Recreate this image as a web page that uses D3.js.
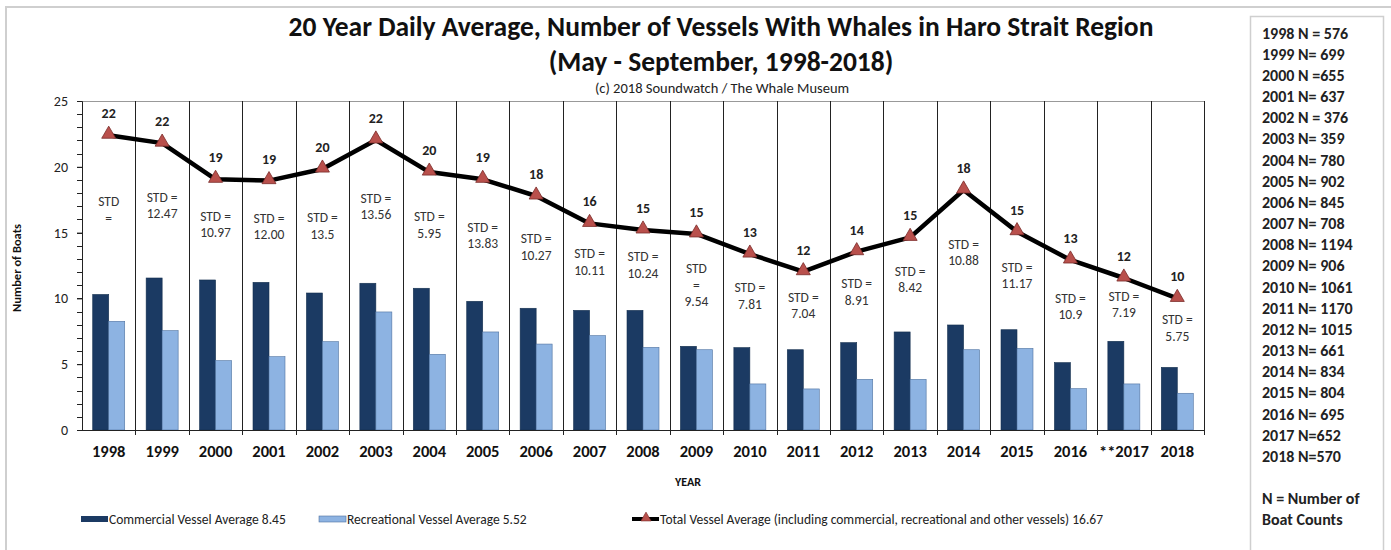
<!DOCTYPE html>
<html>
<head>
<meta charset="utf-8">
<script src="https://cdn.jsdelivr.net/npm/d3@7"></script>
<style>
  body { margin: 0; background: #fff; }
  svg { font-family: Carlito, Lato, sans-serif; }
</style>
</head>
<body>
<svg id="chart" width="1391" height="550"></svg>
<script>
const years = ["1998","1999","2000","2001","2002","2003","2004","2005","2006","2007","2008","2009","2010","2011","2012","2013","2014","2015","2016","2017","2018"];
const yearLabels = ["1998","1999","2000","2001","2002","2003","2004","2005","2006","2007","2008","2009","2010","2011","2012","2013","2014","2015","2016","**2017","2018"];
const commercial = [10.3, 11.55, 11.4, 11.22, 10.41, 11.15, 10.77, 9.78, 9.25, 9.09, 9.09, 6.36, 6.26, 6.1, 6.64, 7.45, 7.98, 7.62, 5.12, 6.74, 4.76];
const recreational = [8.26, 7.55, 5.27, 5.57, 6.71, 8.97, 5.75, 7.45, 6.53, 7.17, 6.28, 6.1, 3.5, 3.12, 3.85, 3.85, 6.1, 6.2, 3.14, 3.5, 2.79];
const total = [22.4, 21.8, 19.05, 18.95, 19.83, 22.04, 19.6, 19.05, 17.78, 15.7, 15.2, 14.9, 13.37, 12.03, 13.55, 14.64, 18.24, 15.07, 12.92, 11.55, 10.0];
const stdLabels = [["STD", "="], ["STD =", "12.47"], ["STD =", "10.97"], ["STD =", "12.00"], ["STD =", "13.5"], ["STD =", "13.56"], ["STD =", "5.95"], ["STD =", "13.83"], ["STD =", "10.27"], ["STD =", "10.11"], ["STD =", "10.24"], ["STD", "=", "9.54"], ["STD =", "7.81"], ["STD =", "7.04"], ["STD =", "8.91"], ["STD =", "8.42"], ["STD =", "10.88"], ["STD =", "11.17"], ["STD =", "10.9"], ["STD =", "7.19"], ["STD =", "5.75"]];
const nCounts = ["1998 N = 576","1999 N= 699","2000 N =655","2001 N= 637","2002 N = 376","2003 N= 359","2004 N= 780","2005 N= 902","2006 N= 845","2007 N= 708","2008 N= 1194","2009 N= 906","2010 N= 1061","2011 N= 1170","2012 N= 1015","2013 N= 661","2014 N= 834","2015 N= 804","2016 N= 695","2017 N=652","2018 N=570"];
const yTicks = [0, 5, 10, 15, 20, 25];
const legendItems = ["Commercial Vessel Average 8.45", "Recreational Vessel Average 5.52", "Total Vessel Average (including commercial, recreational and other vessels) 16.67"];

const svg = d3.select("#chart");
const plotLeft = 82, plotRight = 1204, plotTop = 101, plotBottom = 430;

const xScale = d3.scaleBand().domain(years).range([plotLeft, plotRight]).padding(0);
const subScale = d3.scaleBand().domain(["com", "rec"]).range([0, xScale.bandwidth()]).paddingInner(0).paddingOuter(0.67);
const yScale = d3.scaleLinear().domain([0, 25]).range([plotBottom, plotTop]);

const comColor = "#1b3a63", recColor = "#8db3e2", triColor = "#b9504c";

// outer frame
svg.append("path").attr("d", "M6,550 L6,7 L1391,7").attr("fill", "none").attr("stroke", "#cfcfcf").attr("stroke-width", 2);
svg.append("rect").attr("x", 1250.5).attr("y", 16.5).attr("width", 133).attr("height", 560)
  .attr("fill", "none").attr("stroke", "#cfcfcf").attr("stroke-width", 1.5);

// titles
svg.append("text").attr("x", 721).attr("y", 36).attr("text-anchor", "middle")
  .style("font-size", "27.5px").style("font-weight", "bold").attr("fill", "#111")
  .text("20 Year Daily Average, Number of Vessels With Whales in Haro Strait Region");
svg.append("text").attr("x", 721).attr("y", 71).attr("text-anchor", "middle")
  .style("font-size", "27.5px").style("font-weight", "bold").attr("fill", "#111")
  .text("(May - September, 1998-2018)");
svg.append("text").attr("x", 722).attr("y", 93).attr("text-anchor", "middle")
  .style("font-size", "14.5px").attr("fill", "#222")
  .text("(c) 2018 Soundwatch / The Whale Museum");

// plot border
svg.append("path").attr("d", `M${plotLeft},${plotTop + 0.5} L${plotRight},${plotTop + 0.5}`).attr("stroke", "#999").attr("stroke-width", 1);

// bars
const groups = svg.append("g").selectAll("g").data(years).join("g")
  .attr("transform", d => `translate(${xScale(d)},0)`);
groups.append("rect")
  .attr("x", subScale("com")).attr("width", subScale.bandwidth())
  .attr("y", (d, i) => yScale(commercial[i])).attr("height", (d, i) => plotBottom - yScale(commercial[i]))
  .attr("fill", comColor).attr("stroke", "#15304f").attr("stroke-width", 0.6);
groups.append("rect")
  .attr("x", subScale("rec")).attr("width", subScale.bandwidth())
  .attr("y", (d, i) => yScale(recreational[i])).attr("height", (d, i) => plotBottom - yScale(recreational[i]))
  .attr("fill", recColor).attr("stroke", "#4f72a0").attr("stroke-width", 0.6);

// category dividers
const bounds = years.map(d => xScale(d) + xScale.bandwidth());
svg.append("g").selectAll("line").data(bounds).join("line")
  .attr("x1", d => Math.round(d) + 0.5).attr("x2", d => Math.round(d) + 0.5)
  .attr("y1", plotTop).attr("y2", plotBottom + 5)
  .attr("stroke", "#222").attr("stroke-width", 1);

// y axis
const yAxis = d3.axisLeft(yScale).tickValues(yTicks).tickSize(5).tickPadding(9);
const yg = svg.append("g").attr("transform", `translate(${plotLeft},0)`).call(yAxis).attr("font-family", null);
yg.select(".domain").attr("stroke", "#222");
yg.selectAll(".tick line").attr("stroke", "#222");
yg.selectAll("text").style("font-size", "14px").attr("fill", "#222");
svg.append("g").selectAll("line").data(d3.range(0, 26)).join("line")
  .attr("x1", plotLeft - 5).attr("x2", plotLeft)
  .attr("y1", d => Math.round(yScale(d)) + 0.5).attr("y2", d => Math.round(yScale(d)) + 0.5)
  .attr("stroke", "#222");

// x axis
const xAxis = d3.axisBottom(xScale).tickSize(0).tickPadding(15).tickFormat((d, i) => yearLabels[i]);
const xg = svg.append("g").attr("transform", `translate(0,${plotBottom})`).call(xAxis).attr("font-family", null);
xg.select(".domain").attr("stroke", "#222");
xg.selectAll("text").style("font-size", "16.5px").style("font-weight", "bold").attr("fill", "#111");
svg.append("line").attr("x1", plotLeft).attr("x2", plotRight).attr("y1", plotBottom + 0.5).attr("y2", plotBottom + 0.5).attr("stroke", "#222");

// axis titles
svg.append("text").attr("transform", `translate(21,${268}) rotate(-90)`).attr("text-anchor", "middle")
  .style("font-size", "12.5px").style("font-weight", "bold").attr("fill", "#111").text("Number of Boats");
svg.append("text").attr("x", 688).attr("y", 486).attr("text-anchor", "middle")
  .style("font-size", "12px").style("font-weight", "bold").attr("fill", "#111").text("YEAR");

// total line
const cx = (d, i) => xScale(years[i]) + xScale.bandwidth() / 2;
const line = d3.line().x((d, i) => cx(d, i)).y(d => yScale(d));
svg.append("path").datum(total).attr("d", line).attr("fill", "none")
  .attr("stroke", "#000").attr("stroke-width", 4.5).attr("stroke-linejoin", "round");
const tri = d3.symbol().type(d3.symbolTriangle).size(85);
svg.append("g").selectAll("path").data(total).join("path")
  .attr("d", tri).attr("transform", (d, i) => `translate(${cx(d, i)},${yScale(d) - 1})`)
  .attr("fill", triColor).attr("stroke", "#7a2b28").attr("stroke-width", 0.8);

// value labels
svg.append("g").selectAll("text").data(total).join("text")
  .attr("x", (d, i) => cx(d, i)).attr("y", d => yScale(d) - 17)
  .attr("text-anchor", "middle").style("font-size", "14px").style("font-weight", "bold").attr("fill", "#222")
  .text(d => Math.round(d));

// STD labels, centred between the line point and the taller bar
const stdG = svg.append("g");
stdLabels.forEach((lines, i) => {
  const mid = (yScale(total[i]) + yScale(Math.max(commercial[i], recreational[i]))) / 2 - 5;
  const lh = 16.5;
  const y0 = mid - (lines.length - 1) * lh / 2 + 4.5;
  const t = stdG.append("text").attr("text-anchor", "middle").style("font-size", "13.5px").attr("fill", "#333");
  lines.forEach((s, j) => {
    t.append("tspan").attr("x", cx(0, i)).attr("y", y0 + j * lh).text(s);
  });
});

// legend
const lg = svg.append("g").style("font-size", "13.5px").attr("fill", "#222");
lg.append("rect").attr("x", 81).attr("y", 516).attr("width", 27).attr("height", 6).attr("fill", comColor);
lg.append("text").attr("x", 109).attr("y", 524).text(legendItems[0]);
lg.append("rect").attr("x", 319).attr("y", 516).attr("width", 27).attr("height", 6).attr("fill", recColor).attr("stroke", "#4f72a0").attr("stroke-width", 0.6);
lg.append("text").attr("x", 347).attr("y", 524).text(legendItems[1]);
lg.append("line").attr("x1", 632).attr("x2", 659).attr("y1", 519).attr("y2", 519).attr("stroke", "#000").attr("stroke-width", 4);
lg.append("path").attr("d", d3.symbol().type(d3.symbolTriangle).size(45)).attr("transform", "translate(646,518)")
  .attr("fill", triColor).attr("stroke", "#7a2b28").attr("stroke-width", 0.6);
lg.append("text").attr("x", 660).attr("y", 524).text(legendItems[2]);

// N counts panel
const ng = svg.append("g").style("font-size", "16px").style("font-weight", "bold").attr("fill", "#222");
ng.selectAll("text").data(nCounts).join("text")
  .attr("x", 1262).attr("y", (d, i) => 38.5 + i * 21.17).text(d => d);
ng.append("text").attr("x", 1262).attr("y", 504).text("N = Number of");
ng.append("text").attr("x", 1262).attr("y", 525).text("Boat Counts");
</script>
</body>
</html>
